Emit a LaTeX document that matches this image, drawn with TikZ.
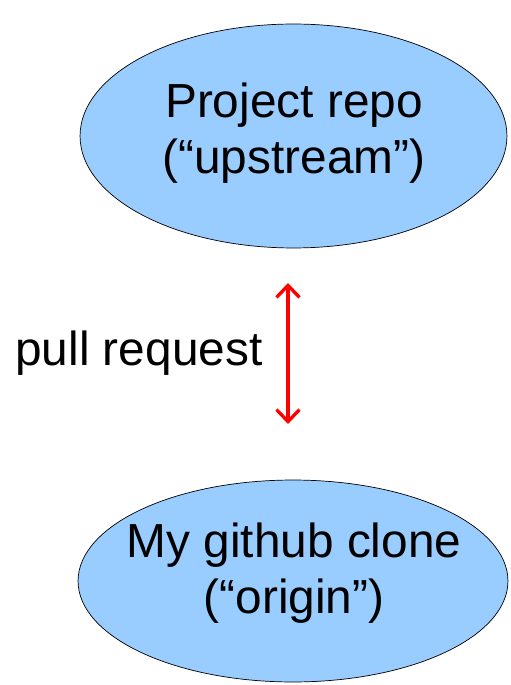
\documentclass[tikz,border=0pt]{standalone}
\usepackage{fontspec}
\setmainfont{Liberation Sans}
\usepackage{tikz}
\usetikzlibrary{shapes.geometric, arrows.meta}

\definecolor{repoblue}{RGB}{153,204,255}

\begin{document}
\begin{tikzpicture}[
  x=0.02cm, y=-0.02cm,
  repo/.style={draw, ellipse, fill=repoblue, thin, inner sep=0pt},
  big/.style={font=\fontsize{27.2}{31.6}\selectfont, inner sep=0pt, align=center},
  barb/.tip={Straight Barb[length=2.4mm, width=4.6mm, line width=1.9pt]},
  pr/.style={barb-barb, red, line width=1.9pt},
]
\useasboundingbox (0,0) rectangle (510,685);

% --- repositories ---
\node[repo, minimum width=8.54cm, minimum height=4.48cm] (upstream) at (293.5,136) {};
\node[big] (upstreamtext) at (294,133) {Project repo\\(“upstream”)};

\node[repo, minimum width=8.6cm, minimum height=4.04cm] (origin) at (293,581) {};
\node[big] (origintext) at (294,573) {My github clone\\(“origin”)};

% --- pull request ---
\coordinate (prtop) at (288,283);
\coordinate (prbot) at (288,424);
\draw[pr] (prtop) -- (prbot);
\node[big, anchor=base west] (prlabel) at (15,365) {pull request};

\end{tikzpicture}
\end{document}
